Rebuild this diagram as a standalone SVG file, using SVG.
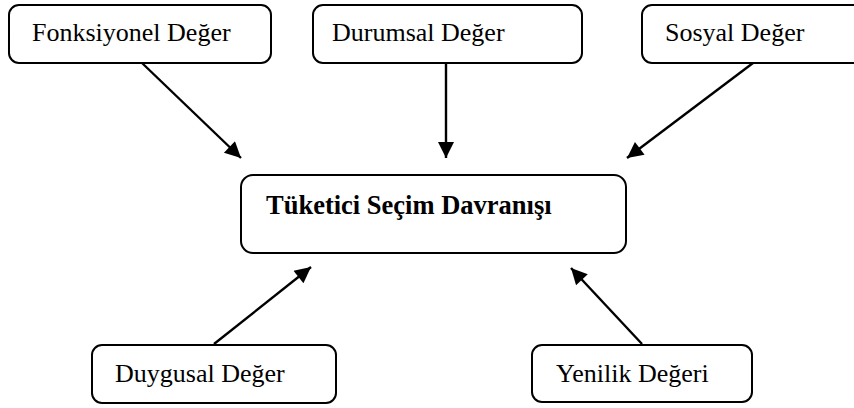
<svg xmlns="http://www.w3.org/2000/svg" width="854" height="408" viewBox="0 0 854 408">
  <style>
    .box { fill: #ffffff; stroke: #000000; stroke-width: 2; }
    .lbl { font-family: "Liberation Serif", "Times New Roman", serif; font-size: 26px; fill: #000000; }
    .main { font-weight: bold; font-size: 26.5px; }
    .edge { stroke: #000000; stroke-width: 2.4; fill: none; marker-end: url(#head); }
  </style>
  <defs>
    <marker id="head" viewBox="0 0 10 10" refX="10" refY="5" markerUnits="userSpaceOnUse" markerWidth="20" markerHeight="16" orient="auto">
      <path d="M0,0 L10,5 L0,10 Z" fill="#000000"/>
    </marker>
  </defs>
  <rect width="854" height="408" fill="#ffffff"/>

  <g id="connectors">
    <line class="edge" x1="142" y1="63" x2="241" y2="158"/>
    <line class="edge" x1="446" y1="63" x2="446" y2="158"/>
    <line class="edge" x1="753" y1="63" x2="627" y2="158"/>
    <line class="edge" x1="214" y1="344" x2="311" y2="267"/>
    <line class="edge" x1="642" y1="344" x2="571" y2="268"/>
  </g>

  <g id="fonksiyonel">
    <rect class="box" x="9" y="5" width="262" height="58" rx="10"/>
    <text class="lbl" x="32" y="41">Fonksiyonel Değer</text>
  </g>
  <g id="durumsal">
    <rect class="box" x="313" y="5" width="269" height="58" rx="10"/>
    <text class="lbl" x="332" y="41">Durumsal Değer</text>
  </g>
  <g id="sosyal">
    <rect class="box" x="642" y="5" width="230" height="58" rx="10"/>
    <text class="lbl" x="665" y="41">Sosyal Değer</text>
  </g>
  <g id="tuketici">
    <rect class="box" x="241" y="175" width="385" height="78" rx="12"/>
    <text class="lbl main" x="266" y="214">Tüketici Seçim Davranışı</text>
  </g>
  <g id="duygusal">
    <rect class="box" x="92" y="345" width="244" height="58" rx="10"/>
    <text class="lbl" x="115" y="382">Duygusal Değer</text>
  </g>
  <g id="yenilik">
    <rect class="box" x="532" y="345" width="220" height="57" rx="10"/>
    <text class="lbl" x="556" y="382">Yenilik Değeri</text>
  </g>
</svg>
